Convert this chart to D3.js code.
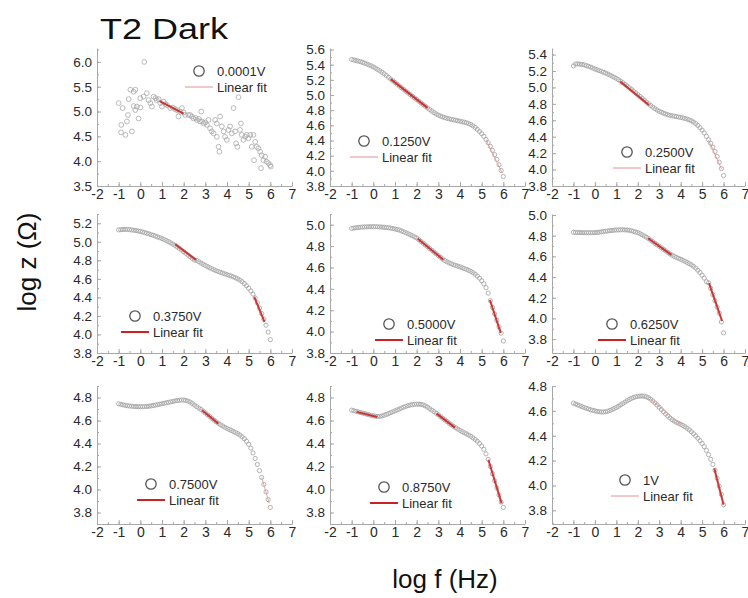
<!DOCTYPE html>
<html><head><meta charset="utf-8">
<script src="https://cdn.jsdelivr.net/npm/d3@7"></script>
<style>body{margin:0;background:#fff}</style>
</head><body>
<svg id="c" width="748" height="598"></svg>
<script>
// ---------- DATA ----------
const title = "T2 Dark";
const xTitle = "log f (Hz)";
const yTitle = "log z (Ω)";
const voltages = ["0.0001V","0.1250V","0.2500V","0.3750V","0.5000V","0.6250V","0.7500V","0.8750V","1V"];
const xTicks = [-2,-1,0,1,2,3,4,5,6,7];
const logF = [-1.0,-0.9,-0.8,-0.7,-0.6,-0.5,-0.4,-0.3,-0.2,-0.1,0.0,0.1,0.2,0.3,0.4,0.5,0.6,0.7,0.8,0.9,
  1.0,1.1,1.2,1.3,1.4,1.5,1.6,1.7,1.8,1.9,2.0,2.1,2.2,2.3,2.4,2.5,2.6,2.7,2.8,2.9,
  3.0,3.1,3.2,3.3,3.4,3.5,3.6,3.7,3.8,3.9,4.0,4.1,4.2,4.3,4.4,4.5,4.6,4.7,4.8,4.9,
  5.0,5.1,5.2,5.3,5.4,5.5,5.6,5.7,5.8,5.9,6.0];

// 0.0001V: scattered points [log f, log z]
const z0001 = [[-1.0,5.17],[-0.82,5.07],[-0.54,5.25],[-0.46,5.44],[-0.31,5.40],[-0.23,5.44],[-0.62,4.80],[-0.57,4.93],
  [-0.88,4.73],[-0.89,4.58],[-0.69,4.53],[-0.39,4.60],[-0.31,5.11],[-0.23,5.03],[-0.16,5.10],[0.0,5.08],[-0.08,4.86],
  [0.0,5.27],[0.18,6.0],[0.15,5.30],[0.30,5.37],[0.38,5.23],[0.46,5.17],[0.61,5.30],[0.76,5.23],[0.53,5.10],[0.92,5.17],
  [1.07,5.20],[1.0,5.10],[1.23,5.13],[1.38,5.07],[1.69,5.03],[1.84,5.0],[1.92,5.07],[1.76,4.90],[2.07,4.93],[2.22,4.93],
  [2.38,4.90],[2.45,4.86],[2.61,4.83],[2.76,4.80],[2.81,5.0],[2.92,4.76],[3.07,4.73],[3.15,4.83],[3.22,4.66],[3.3,4.6],
  [3.38,4.56],[3.45,4.83],[3.53,4.76],[3.53,4.49],[3.61,4.29],[3.65,4.19],[3.68,4.90],[3.76,4.70],[3.84,4.60],[3.91,4.49],
  [3.99,4.43],[4.07,4.63],[4.14,4.70],[4.22,4.56],[4.30,5.07],[4.37,4.60],[4.42,4.36],[4.48,4.29],[4.53,5.29],[4.60,4.63],
  [4.64,4.76],[4.68,4.53],[4.76,4.43],[4.84,4.49],[4.91,4.53],[4.99,4.46],[5.07,4.53],[5.14,4.29],[5.22,4.53],[5.25,4.02],
  [5.30,4.39],[5.37,4.29],[5.45,4.26],[5.53,4.19],[5.57,3.86],[5.60,4.12],[5.68,4.02],[5.76,4.09],[5.83,3.99],[5.91,3.96],
  [5.99,3.92],[6.02,3.89],[0.7,5.27],[0.85,5.25],[1.15,5.15],[1.5,5.08],[1.6,5.05],[2.0,4.98],[2.3,4.93],[2.55,4.87],
  [2.7,4.85],[2.85,4.80],[3.0,4.78]];

const z0125 = [5.468,5.462,5.455,5.448,5.440,5.430,5.420,5.409,5.397,5.384,5.370,5.354,5.337,5.319,5.300,5.280,5.258,5.234,5.210,5.188,
  5.165,5.142,5.119,5.096,5.073,5.050,5.028,5.006,4.984,4.962,4.940,4.918,4.896,4.874,4.852,4.830,4.808,4.788,4.768,4.750,
  4.735,4.722,4.711,4.701,4.692,4.685,4.679,4.673,4.667,4.661,4.655,4.648,4.641,4.633,4.623,4.610,4.593,4.572,4.547,4.519,
  4.490,4.455,4.414,4.370,4.322,4.270,4.213,4.150,4.080,4.005,3.925];
const z0250 = [5.262,5.285,5.286,5.284,5.280,5.274,5.266,5.257,5.247,5.236,5.224,5.215,5.205,5.195,5.185,5.175,5.163,5.150,5.137,5.124,
  5.110,5.094,5.076,5.057,5.038,5.018,4.997,4.976,4.955,4.934,4.912,4.890,4.868,4.846,4.823,4.800,4.780,4.760,4.742,4.725,
  4.710,4.698,4.687,4.677,4.668,4.660,4.655,4.650,4.645,4.640,4.635,4.629,4.622,4.614,4.605,4.593,4.578,4.560,4.537,4.510,
  4.480,4.445,4.406,4.364,4.320,4.273,4.220,4.160,4.090,4.012,3.927];
const z0375 = [5.128,5.131,5.133,5.134,5.133,5.131,5.128,5.125,5.121,5.117,5.112,5.106,5.099,5.092,5.085,5.078,5.070,5.062,5.053,5.044,
  5.035,5.025,5.014,5.002,4.989,4.976,4.962,4.946,4.929,4.911,4.893,4.875,4.857,4.839,4.821,4.803,4.799,4.785,4.771,4.758,
  4.745,4.732,4.720,4.709,4.698,4.688,4.679,4.670,4.662,4.654,4.646,4.638,4.630,4.621,4.611,4.600,4.586,4.569,4.549,4.526,
  4.500,4.470,4.436,4.395,4.342,4.285,4.226,4.165,4.100,4.025,3.944];
const z0500 = [4.965,4.968,4.971,4.974,4.976,4.978,4.979,4.980,4.981,4.981,4.981,4.981,4.980,4.979,4.978,4.976,4.974,4.971,4.968,4.964,
  4.960,4.955,4.949,4.942,4.934,4.925,4.916,4.906,4.896,4.886,4.876,4.860,4.843,4.827,4.810,4.794,4.777,4.761,4.744,4.728,
  4.711,4.695,4.679,4.665,4.653,4.643,4.634,4.626,4.619,4.612,4.605,4.598,4.590,4.582,4.573,4.563,4.551,4.537,4.520,4.500,
  4.476,4.447,4.410,4.360,4.290,4.225,4.165,4.105,4.045,3.985,3.913];
const z0625 = [4.833,4.832,4.831,4.830,4.830,4.829,4.829,4.829,4.829,4.829,4.830,4.832,4.834,4.837,4.840,4.843,4.846,4.849,4.851,4.853,
  4.855,4.856,4.857,4.857,4.856,4.855,4.852,4.848,4.842,4.836,4.830,4.820,4.809,4.797,4.785,4.772,4.757,4.742,4.727,4.712,
  4.698,4.683,4.668,4.653,4.638,4.624,4.611,4.600,4.590,4.581,4.572,4.562,4.552,4.541,4.530,4.518,4.503,4.486,4.466,4.444,
  4.418,4.390,4.355,4.345,4.290,4.230,4.170,4.110,4.050,3.965,3.860];
const z0750 = [4.745,4.740,4.736,4.732,4.729,4.726,4.724,4.722,4.721,4.720,4.720,4.720,4.721,4.722,4.724,4.727,4.730,4.734,4.738,4.742,
  4.746,4.750,4.754,4.758,4.762,4.766,4.770,4.773,4.776,4.778,4.778,4.775,4.769,4.760,4.748,4.734,4.721,4.708,4.696,4.682,
  4.666,4.650,4.635,4.619,4.604,4.589,4.575,4.563,4.552,4.541,4.531,4.522,4.513,4.504,4.495,4.485,4.473,4.459,4.442,4.420,
  4.393,4.360,4.318,4.270,4.218,4.164,4.105,4.045,3.980,3.912,3.844];
const z0875 = [4.690,4.685,4.680,4.675,4.670,4.665,4.660,4.655,4.650,4.645,4.641,4.637,4.635,4.636,4.640,4.646,4.653,4.660,4.668,4.676,
  4.684,4.692,4.700,4.708,4.716,4.723,4.729,4.734,4.738,4.741,4.742,4.742,4.740,4.735,4.727,4.716,4.703,4.690,4.677,4.663,
  4.649,4.634,4.620,4.605,4.591,4.577,4.563,4.550,4.537,4.525,4.514,4.503,4.493,4.483,4.473,4.462,4.449,4.435,4.419,4.400,
  4.378,4.350,4.310,4.262,4.200,4.138,4.076,4.014,3.952,3.890,3.844];
const z1000 = [4.662,4.655,4.648,4.641,4.634,4.627,4.621,4.615,4.609,4.604,4.600,4.596,4.593,4.591,4.591,4.593,4.597,4.603,4.610,4.618,
  4.627,4.637,4.648,4.659,4.670,4.681,4.691,4.700,4.707,4.713,4.717,4.719,4.720,4.718,4.713,4.705,4.694,4.680,4.664,4.647,
  4.629,4.611,4.593,4.575,4.558,4.542,4.529,4.518,4.508,4.500,4.492,4.483,4.472,4.460,4.447,4.432,4.416,4.398,4.380,4.360,
  4.338,4.312,4.282,4.248,4.210,4.170,4.122,4.058,3.994,3.928,3.845];

// linear fits: [x0, y0, x1, y1, strong(1)/faint(0)]
const fit0001 = [[0.89,5.21,2.0,4.96,1]];
const fit0125 = [[0.8,5.21,2.5,4.83,1],[5.2,4.41,5.95,3.97,0]];
const fit0250 = [[1.18,5.073,2.52,4.786,1],[5.3,4.36,5.9,4.01,0]];
const fit0375 = [[1.61,4.974,2.57,4.805,1],[5.26,4.405,5.73,4.135,1]];
const fit0500 = [[2.05,4.868,3.23,4.673,1],[5.38,4.296,5.88,3.988,1]];
const fit0625 = [[2.48,4.775,3.57,4.614,1],[5.32,4.341,5.93,3.975,1]];
const fit0750 = [[2.85,4.689,3.6,4.573,1],[5.6,4.105,5.95,3.88,0]];
const fit0875 = [[-0.77,4.675,0.18,4.631,1],[2.92,4.66,3.77,4.538,1],[5.31,4.258,5.92,3.879,1]];
const fit1000 = [[5.57,4.136,6.0,3.845,1],[2.6,4.694,4.0,4.492,0]];

const yDomains = [[3.5,6.28],[3.8,5.62],[3.8,5.48],[3.8,5.3],[3.8,5.1],[3.665,5.01],[3.7,4.9],[3.7,4.9],[3.69,4.8]];
const yTickSteps = [0.5,0.2,0.2,0.2,0.2,0.2,0.2,0.2,0.2];
const yTickLabels = [
  [3.5,4.0,4.5,5.0,5.5,6.0],
  [3.8,4.0,4.2,4.4,4.6,4.8,5.0,5.2,5.4,5.6],
  [3.8,4.0,4.2,4.4,4.6,4.8,5.0,5.2,5.4],
  [3.8,4.0,4.2,4.4,4.6,4.8,5.0,5.2],
  [3.8,4.0,4.2,4.4,4.6,4.8,5.0],
  [3.8,4.0,4.2,4.4,4.6,4.8,5.0],
  [3.8,4.0,4.2,4.4,4.6,4.8],
  [3.8,4.0,4.2,4.4,4.6,4.8],
  [3.8,4.0,4.2,4.4,4.6,4.8]];
const legendStrong = [0,0,0,1,1,1,1,1,0];

const series = [z0001,z0125,z0250,z0375,z0500,z0625,z0750,z0875,z1000];
const fits = [fit0001,fit0125,fit0250,fit0375,fit0500,fit0625,fit0750,fit0875,fit1000];

// ---------- LAYOUT ----------
const colRange = [[97,292],[330,525],[552,745]];
const rowRange = [[48,186],[214,353],[386,524]];
const legendPos = [[199,71],[364,141],[627,152],[135,316],[389,324],[612,324],[151,484],[384,487],[625,480]];
const FONT = "'Liberation Sans', Arial, sans-serif";
const AX = "#a8a8a8", TXT = "#2a2a2a";
const RED = "#cc2222", PINK = "#e79090";

const svg = d3.select("#c");

svg.append("text").attr("x",100).attr("y",39).text(title)
  .attr("font-family",FONT).attr("font-size",30).attr("fill","#111")
  .attr("textLength",128).attr("lengthAdjust","spacingAndGlyphs");

svg.append("text").attr("transform","translate(36,262) rotate(-90)")
  .attr("text-anchor","middle").attr("font-family",FONT).attr("font-size",26).attr("fill","#111").text(yTitle);
svg.append("text").attr("x",445).attr("y",588)
  .attr("text-anchor","middle").attr("font-family",FONT).attr("font-size",26).attr("fill","#111").text(xTitle);

const fmtX = d => String(d);
const fmtY = d => d.toFixed(1);

voltages.forEach((v,i)=>{
  const col = i%3, row = Math.floor(i/3);
  const x = d3.scaleLinear().domain([-2,7]).range(colRange[col]);
  const y = d3.scaleLinear().domain(yDomains[i]).range([rowRange[row][1], rowRange[row][0]]);
  const g = svg.append("g");

  // minor ticks
  const xMinor = d3.range(-2,7.001,0.5);
  g.append("g").attr("transform",`translate(0,${rowRange[row][1]})`)
    .call(d3.axisBottom(x).tickValues(xMinor).tickSize(-2).tickSizeOuter(0).tickFormat(""))
    .call(s=>{s.select(".domain").remove(); s.selectAll("line").attr("stroke",AX);});
  const st = yTickSteps[i]/2;
  const yMinor = d3.range(Math.ceil(yDomains[i][0]/st-1e-6)*st, yDomains[i][1]+1e-6, st);
  g.append("g").attr("transform",`translate(${colRange[col][0]},0)`)
    .call(d3.axisLeft(y).tickValues(yMinor).tickSize(-2).tickSizeOuter(0).tickFormat(""))
    .call(s=>{s.select(".domain").remove(); s.selectAll("line").attr("stroke",AX);});

  // major axes
  g.append("g").attr("transform",`translate(0,${rowRange[row][1]})`)
    .call(d3.axisBottom(x).tickValues(xTicks).tickSize(-4).tickSizeOuter(0).tickPadding(3).tickFormat(fmtX))
    .call(s=>{
      s.select(".domain").attr("stroke",AX);
      s.selectAll("line").attr("stroke",AX);
      s.selectAll("text").attr("font-family",FONT).attr("font-size",14).attr("fill",TXT);
    });
  g.append("g").attr("transform",`translate(${colRange[col][0]},0)`)
    .call(d3.axisLeft(y).tickValues(yTickLabels[i]).tickSize(-4).tickSizeOuter(0).tickPadding(5).tickFormat(fmtY))
    .call(s=>{
      s.select(".domain").attr("stroke",AX);
      s.selectAll("line").attr("stroke",AX);
      s.selectAll("text").attr("font-family",FONT).attr("font-size",13.5).attr("fill",TXT);
    });

  // points
  const pts = i===0 ? series[0] : series[i].map((d,k)=>[logF[k],d]);
  g.append("g").selectAll("circle").data(pts).join("circle")
    .attr("cx",d=>x(d[0])).attr("cy",d=>y(d[1]))
    .attr("r", i===0 ? 2.4 : 2.1)
    .attr("fill","none").attr("stroke", i===0 ? "#a8a8a8" : "#a0a0a0").attr("stroke-width",0.8);

  // fits
  const line = d3.line().x(d=>x(d[0])).y(d=>y(d[1]));
  fits[i].forEach(f=>{
    g.append("path").attr("d",line([[f[0],f[1]],[f[2],f[3]]]))
      .attr("fill","none").attr("stroke", f[4] ? RED : PINK)
      .attr("stroke-width", f[4] ? 2 : 1).attr("opacity", f[4] ? 0.9 : 0.8);
  });

  // legend
  const [lx,ly] = legendPos[i];
  g.append("circle").attr("cx",lx).attr("cy",ly).attr("r",5.2)
    .attr("fill","none").attr("stroke","#555").attr("stroke-width",1.3);
  g.append("text").attr("x",lx+18).attr("y",ly).attr("dy","0.36em")
    .attr("font-family",FONT).attr("font-size",13).attr("fill",TXT).text(v);
  g.append("line").attr("x1",lx-14).attr("x2",lx+14).attr("y1",ly+16).attr("y2",ly+16)
    .attr("stroke", legendStrong[i] ? RED : PINK).attr("stroke-width", legendStrong[i] ? 2 : 1);
  g.append("text").attr("x",lx+18).attr("y",ly+16).attr("dy","0.36em")
    .attr("font-family",FONT).attr("font-size",13).attr("fill",TXT).text("Linear fit");
});
</script></body></html>
